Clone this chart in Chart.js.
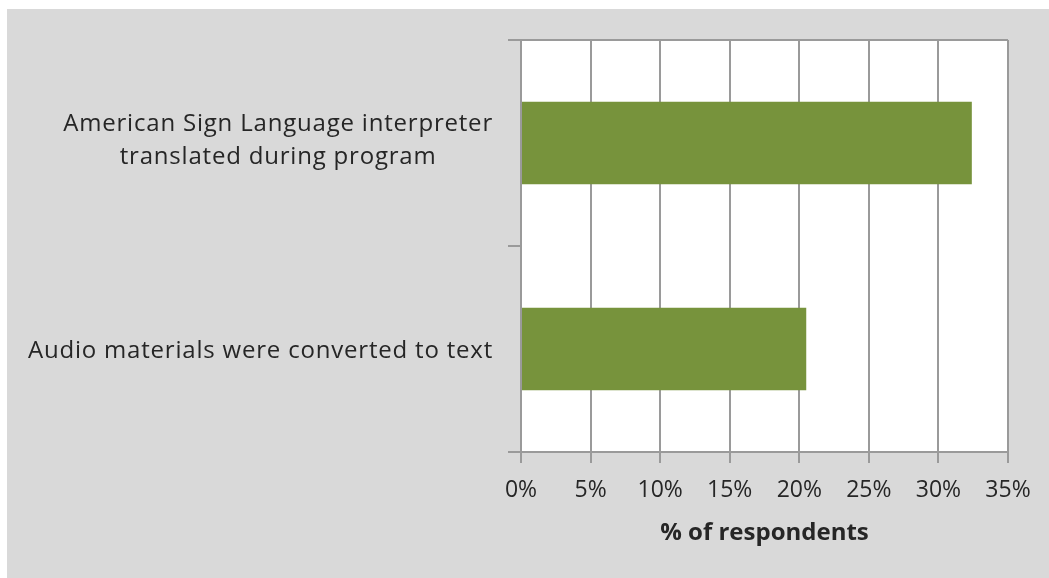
<!DOCTYPE html>
<html>
<head>
<meta charset="utf-8">
<script src="https://cdn.jsdelivr.net/npm/chart.js@4"></script>
<style>
  html, body { margin: 0; padding: 0; background: #fff; }
  #wrap { position: absolute; left: 7px; top: 9px; width: 1042px; height: 569px; background: #d9d9d9; }
</style>
</head>
<body>
<div id="wrap"><canvas id="chart"></canvas></div>
<script>
// data
const categories = [
  ['American Sign Language interpreter', 'translated during program'],
  ['Audio materials were converted to text']
];
const values = [32.4, 20.5];
const axisTitle = '% of respondents';

const gridColor = '#9a9a9a';
const textColor = '#262626';
const fontFamily = '"Open Sans", sans-serif';

// white plot area
const plotBgPlugin = {
  id: 'plotBg',
  beforeDraw(chart) {
    const {ctx, chartArea} = chart;
    ctx.save();
    ctx.fillStyle = '#fff';
    ctx.fillRect(chartArea.left, chartArea.top, chartArea.width, chartArea.height);
    ctx.restore();
  }
};

// draws the category labels right-aligned as blocks, lines centered inside each block
const yLabelPlugin = {
  id: 'yLabels',
  afterDraw(chart) {
    const ctx = chart.ctx;
    const scale = chart.scales.y;
    ctx.save();
    ctx.font = '24px ' + fontFamily;
    ctx.letterSpacing = '0.8px';
    ctx.fillStyle = textColor;
    ctx.textAlign = 'center';
    ctx.textBaseline = 'middle';
    const lineHeight = 33;
    const right = scale.right - 14 - 14;
    categories.forEach((lines, i) => {
      const widest = Math.max(...lines.map(l => ctx.measureText(l).width));
      const cx = right - widest / 2;
      const cy = scale.getPixelForTick(i) + (lines.length > 1 ? -2 : 2);
      lines.forEach((line, j) => {
        ctx.fillText(line, cx, cy + (j - (lines.length - 1) / 2) * lineHeight);
      });
    });
    ctx.restore();
  }
};

new Chart(document.getElementById('chart'), {
  type: 'bar',
  data: {
    labels: categories,
    datasets: [{
      data: values,
      backgroundColor: '#77933c',
      borderWidth: 0,
      categoryPercentage: 0.8,
      barPercentage: 0.5
    }]
  },
  options: {
    indexAxis: 'y',
    responsive: true,
    maintainAspectRatio: false,
    animation: false,
    layout: { padding: { top: 31, right: 41, bottom: 0, left: 0 } },
    plugins: { legend: { display: false }, tooltip: { enabled: false } },
    scales: {
      x: {
        min: 0,
        max: 35,
        afterFit: scale => { scale.height = 126; },
        ticks: {
          stepSize: 5,
          callback: v => v + '%',
          color: textColor,
          font: { family: fontFamily, size: 23 },
          padding: 14
        },
        grid: { color: gridColor, lineWidth: 2, tickLength: 11 },
        border: { color: gridColor, width: 2 },
        title: {
          display: true,
          text: axisTitle,
          color: textColor,
          font: { family: fontFamily, size: 24, weight: 'bold' },
          padding: { top: 0, bottom: 30 }
        }
      },
      y: {
        afterFit: scale => { scale.width = 514; },
        ticks: { display: false },
        grid: {
          offset: true,
          color: ctx => ctx.index === 1 ? 'rgba(0,0,0,0)' : gridColor,
          tickColor: gridColor,
          lineWidth: 2,
          tickLength: 13
        },
        border: { color: gridColor, width: 2 }
      }
    }
  },
  plugins: [plotBgPlugin, yLabelPlugin]
});
</script>
</body>
</html>
